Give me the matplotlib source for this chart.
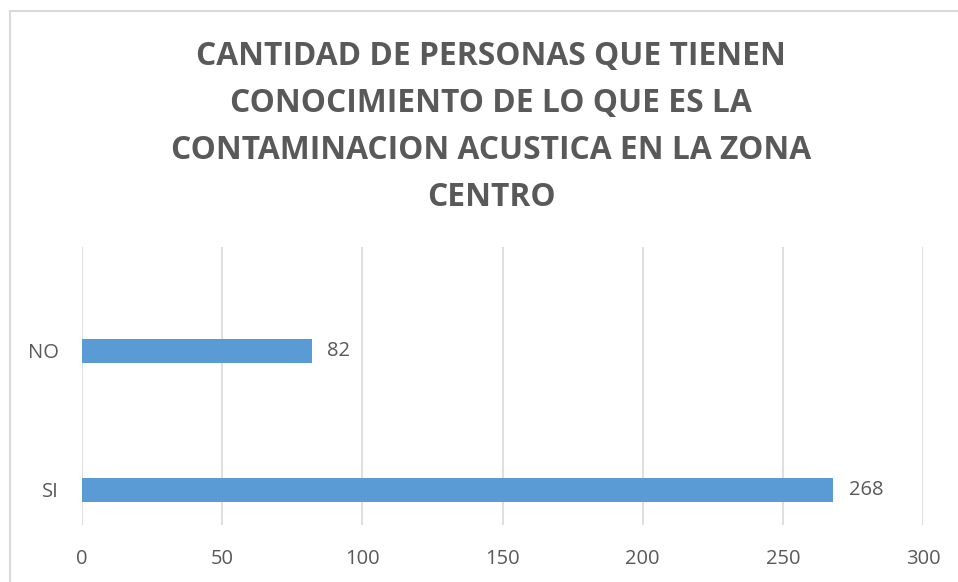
import matplotlib.pyplot as plt
from matplotlib.lines import Line2D

plt.rcParams['font.family'] = ['Open Sans', 'DejaVu Sans']

# datos
categorias = ['SI', 'NO']
personas = [268, 82]
ticks_x = [0, 50, 100, 150, 200, 250, 300]
titulo = ('CANTIDAD DE PERSONAS QUE TIENEN\n'
          'CONOCIMIENTO DE LO QUE ES LA\n'
          'CONTAMINACION ACUSTICA EN LA ZONA\n'
          'CENTRO')

gris = '#595959'
azul = '#5B9BD5'
W, H = 958, 582

fig = plt.figure(figsize=(W / 100, H / 100), dpi=100)
ax = fig.add_axes([82 / W, 57 / H, 841 / W, 278 / H])

pos = list(range(len(categorias)))
ax.barh(pos, personas, height=0.173, color=azul, zorder=3)
for y, v in zip(pos, personas):
    ax.text(v + 5.5, y, str(v), va='center', ha='left', fontsize=14.5, color=gris)

ax.set_xlim(0, 300)
ax.set_ylim(-0.252, 1.748)
ax.set_xticks(ticks_x)
ax.set_yticks(pos)
ax.set_yticklabels(categorias)
ax.tick_params(length=0, labelsize=14.5, labelcolor=gris)
ax.tick_params(axis='x', pad=17.5)
ax.tick_params(axis='y', pad=17)
ax.grid(axis='x', color='#D9D9D9', linewidth=1.2, zorder=0)
for s in ax.spines.values():
    s.set_visible(False)

fig.text(491 / W, 1 - 127 / H, titulo, ha='center', va='center', fontsize=22.9,
         fontweight='bold', color=gris, linespacing=1.55)

# marco del grafico
fig.add_artist(Line2D([10 / W, 1], [1 - 11 / H, 1 - 11 / H], color='#D9D9D9', lw=1.5))
fig.add_artist(Line2D([10 / W, 10 / W], [0, 1 - 11 / H], color='#D9D9D9', lw=1.5))

fig.savefig('out.png', dpi=100)
